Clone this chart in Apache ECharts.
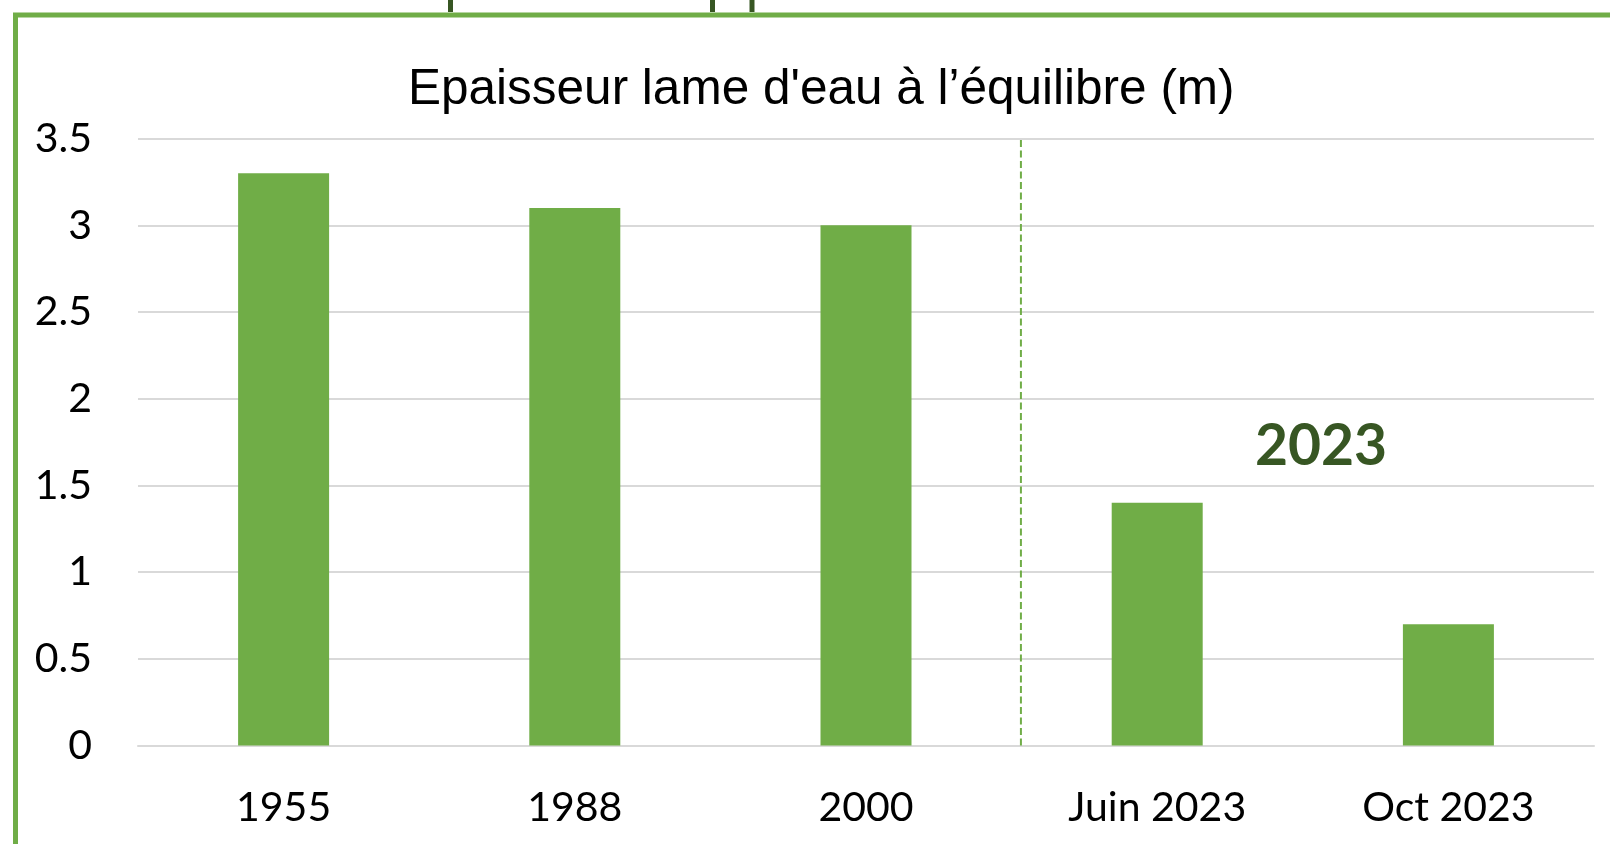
<!DOCTYPE html>
<html>
<head>
<meta charset="utf-8">
<script src="https://cdn.jsdelivr.net/npm/echarts@6/dist/echarts.min.js"></script>
<style>
html,body{margin:0;padding:0;background:#fff;}
#chart{width:1610px;height:844px;}
</style>
</head>
<body>
<div id="chart"></div>
<script>
const titleText = "Epaisseur lame d'eau à l’équilibre (m)";
const categories = ['1955', '1988', '2000', 'Juin 2023', 'Oct 2023'];
const values = [3.3, 3.1, 3.0, 1.4, 0.7];
const yMin = 0, yMax = 3.5, yInterval = 0.5;
const annotationText = '2023';
// separator position on a 0..5 span (category bands), slightly right of the 2000 / Juin 2023 boundary
const separatorX = 3.032;
const separatorY = [0, 3.5];

const chart = echarts.init(document.getElementById('chart'), null, {renderer: 'canvas'});
const option = {
  backgroundColor: '#ffffff',
  animation: false,
  title: {
    text: titleText,
    left: 408,
    top: 65,
    padding: 0,
    textStyle: {
      fontFamily: 'Liberation Sans',
      fontSize: 49.5,
      fontWeight: 'normal',
      color: '#000000'
    }
  },
  grid: {left: 138, right: 16, top: 138.6, bottom: 98.4, containLabel: false},
  xAxis: [{
    type: 'category',
    data: categories,
    axisLine: {show: true, lineStyle: {color: '#d9d9d9', width: 2}},
    axisTick: {show: false},
    axisLabel: {
      margin: 42,
      fontFamily: 'Lato',
      fontSize: 41,
      color: '#000000'
    }
  }, {
    type: 'value',
    min: 0,
    max: categories.length,
    show: false,
    splitLine: {show: false}
  }],
  yAxis: {
    type: 'value',
    min: yMin,
    max: yMax,
    interval: yInterval,
    axisLine: {show: false},
    axisTick: {show: false},
    splitLine: {show: true, lineStyle: {color: '#d9d9d9', width: 2}},
    axisLabel: {
      margin: 46,
      fontFamily: 'Lato',
      fontSize: 41,
      color: '#000000'
    }
  },
  series: [{
    type: 'bar',
    data: values,
    barWidth: 91,
    itemStyle: {color: '#70AD47'},
    z: 2
  }, {
    type: 'line',
    xAxisIndex: 1,
    data: separatorY.map(v => [separatorX, v]),
    symbol: 'none',
    silent: true,
    lineStyle: {color: '#70AD47', width: 2, type: [7, 3.5]},
    z: 3
  }],
  graphic: [
    {
      type: 'rect',
      shape: {x: 15.5, y: 15, width: 1700, height: 900},
      style: {fill: 'none', stroke: '#70AD47', lineWidth: 5},
      silent: true
    },
    {type: 'rect', shape: {x: 448, y: 0, width: 5, height: 12}, style: {fill: '#375623'}, silent: true},
    {type: 'rect', shape: {x: 710, y: 0, width: 5, height: 12}, style: {fill: '#375623'}, silent: true},
    {type: 'rect', shape: {x: 749.5, y: 0, width: 5, height: 12}, style: {fill: '#375623'}, silent: true},
    {
      type: 'text',
      x: 1321,
      y: 447,
      style: {
        text: annotationText,
        fill: '#375623',
        font: 'bold 57px Lato',
        textAlign: 'center',
        textVerticalAlign: 'middle'
      },
      silent: true
    }
  ]
};
chart.setOption(option);
</script>
</body>
</html>
